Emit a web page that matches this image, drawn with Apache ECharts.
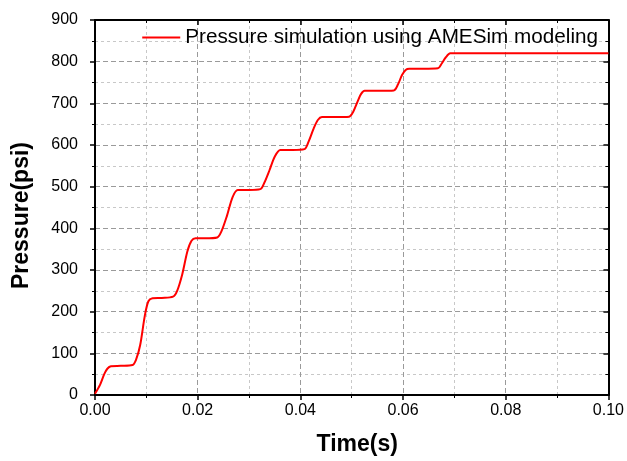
<!DOCTYPE html>
<html>
<head>
<meta charset="utf-8">
<script src="https://cdn.jsdelivr.net/npm/echarts@6/dist/echarts.min.js"></script>
<style>
  html, body { margin: 0; padding: 0; background: #fff; }
  #main { width: 627px; height: 461px; }
</style>
</head>
<body>
<div id="main"></div>
<script>
// time (s) and pressure (psi)
var time = [0.0000, 0.0010, 0.0018, 0.0024, 0.0031, 0.0050, 0.0073, 0.0080, 0.0088, 0.0097,
            0.0104, 0.0112, 0.0130, 0.0152, 0.0160, 0.0170, 0.0180, 0.0188, 0.0196, 0.0215,
            0.0238, 0.0246, 0.0257, 0.0268, 0.0278, 0.0300, 0.0322, 0.0330, 0.0340, 0.0350,
            0.0361, 0.0385, 0.0408, 0.0416, 0.0426, 0.0434, 0.0442, 0.0470, 0.0495, 0.0503,
            0.0512, 0.0518, 0.0525, 0.0555, 0.0582, 0.0590, 0.0598, 0.0605, 0.0612, 0.0640,
            0.0668, 0.0675, 0.0683, 0.0692, 0.0750, 0.0850, 0.1000];
var pressure = [3, 25, 50, 63, 69, 70, 72, 85, 120, 190,
                225, 232, 233, 236, 250, 290, 345, 370, 376, 376,
                378, 392, 430, 475, 492, 492, 494, 510, 540, 572,
                588, 588, 590, 608, 640, 660, 667, 667, 668, 680,
                706, 722, 730, 730, 731, 745, 768, 780, 783, 783,
                784, 795, 810, 820, 820, 820, 820];

var seriesName = 'Pressure simulation using AMESim modeling';
var xTicks = [0, 0.1, 0.02];   // min, max, interval
var yTicks = [0, 900, 100];

var font = 'Liberation Sans, Arial, sans-serif';

var points = time.map(function (t, i) { return [t, pressure[i]]; });

var myChart = echarts.init(document.getElementById('main'));

var gridLine = { show: true, lineStyle: { color: '#9a9a9a', type: [5, 3], width: 1 } };
var minorLine = { show: true, lineStyle: { color: '#c8c8c8', type: [3, 3], width: 1 } };
var axisLine = { show: true, onZero: false, lineStyle: { color: '#000', width: 2 } };

var option = {
    animation: false,
    backgroundColor: '#fff',
    grid: { left: 95, top: 20, right: 18, bottom: 64 },
    legend: {
        data: [{ name: seriesName, icon: 'path://M0,0 L40,0 L40,2 L0,2 Z' }],
        top: 22,
        right: 24,
        itemWidth: 38,
        itemHeight: 2,
        itemGap: 6,
        textStyle: { color: '#000', fontSize: 20.7, fontFamily: font }
    },
    xAxis: [
        {
            type: 'value',
            min: xTicks[0], max: xTicks[1], interval: xTicks[2],
            name: 'Time(s)',
            nameLocation: 'middle',
            nameGap: 38,
            nameTextStyle: { color: '#000', fontSize: 23, fontWeight: 'bold', fontFamily: font,
                padding: [0, 0, 0, 11] },
            axisLine: axisLine,
            axisTick: { show: true, inside: false, length: 5, lineStyle: { color: '#000', width: 1.5 } },
            minorTick: { show: true, splitNumber: 2, length: 3, lineStyle: { color: '#000', width: 1 } },
            axisLabel: { color: '#000', fontSize: 16, fontFamily: font, margin: 8,
                formatter: function (v) { return v.toFixed(2); } },
            splitLine: gridLine,
            minorSplitLine: minorLine
        },
        {
            type: 'value', position: 'top',
            min: xTicks[0], max: xTicks[1], interval: xTicks[2],
            axisLine: axisLine,
            axisTick: { show: true, inside: true, length: 5, lineStyle: { color: '#000', width: 1.5 } },
            minorTick: { show: true, splitNumber: 2, length: 3, lineStyle: { color: '#000', width: 1 } },
            axisLabel: { show: false },
            splitLine: { show: false }
        }
    ],
    yAxis: [
        {
            type: 'value',
            min: yTicks[0], max: yTicks[1], interval: yTicks[2],
            name: 'Pressure(psi)',
            nameLocation: 'middle',
            nameGap: 62,
            nameTextStyle: { color: '#000', fontSize: 23, fontWeight: 'bold', fontFamily: font,
                padding: [0, 16, 0, 0] },
            axisLine: axisLine,
            axisTick: { show: true, inside: false, length: 5, lineStyle: { color: '#000', width: 1.5 } },
            minorTick: { show: true, splitNumber: 2, length: 3, lineStyle: { color: '#000', width: 1 } },
            axisLabel: { color: '#000', fontSize: 16, fontFamily: font, margin: 17 },
            splitLine: gridLine,
            minorSplitLine: minorLine
        },
        {
            type: 'value', position: 'right',
            min: yTicks[0], max: yTicks[1], interval: yTicks[2],
            axisLine: axisLine,
            axisTick: { show: true, inside: true, length: 5, lineStyle: { color: '#000', width: 1.5 } },
            minorTick: { show: true, splitNumber: 2, length: 3, lineStyle: { color: '#000', width: 1 } },
            axisLabel: { show: false },
            splitLine: { show: false }
        }
    ],
    series: [
        {
            name: seriesName,
            type: 'line',
            data: points,
            symbol: 'none',
            smooth: 0.3,
            lineStyle: { color: '#ff0000', width: 2 },
            itemStyle: { color: '#ff0000' }
        }
    ]
};

myChart.setOption(option);
</script>
</body>
</html>
